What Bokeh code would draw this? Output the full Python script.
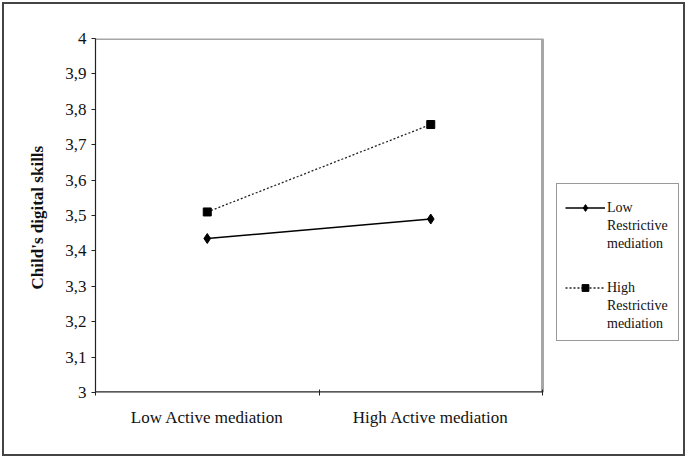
from bokeh.plotting import figure
from bokeh.layouts import column
from bokeh.models import (Range1d, FixedTicker, CustomJSTickFormatter, Legend, LegendItem)
from bokeh.embed import file_html
from bokeh.resources import INLINE

categories = ["Low Active mediation", "High Active mediation"]
low_restrictive = [3.435, 3.49]
high_restrictive = [3.51, 3.757]
series_low_lines = ["Low", "Restrictive", "mediation"]
series_high_lines = ["High", "Restrictive", "mediation"]
y_ticks = [3.0, 3.1, 3.2, 3.3, 3.4, 3.5, 3.6, 3.7, 3.8, 3.9, 4.0]
y_title = "Child's  digital skills"

FONT = "Liberation Serif"
W, H = 679, 450
BL, BT, BB = 91, 34, 62
PLOT_PX = 447  # width of the drawn plot area in pixels
n = len(categories)
xs = [i + 0.5 for i in range(n)]
x_end = n * (W - BL) / PLOT_PX

p = figure(width=W, height=H, output_backend="svg", toolbar_location=None,
           x_range=Range1d(0, x_end), y_range=Range1d(y_ticks[0], y_ticks[-1]),
           min_border_left=BL, min_border_right=0, min_border_top=BT, min_border_bottom=BB)
p.background_fill_color = "white"
p.border_fill_color = "white"
p.outline_line_color = None
p.grid.visible = False

# plot-area box: top & right light gray, bottom dark (axis line)
p.segment(x0=[0, n], y0=[y_ticks[-1], y_ticks[0]], x1=[n, n], y1=[y_ticks[-1], y_ticks[-1]],
          line_color="#a6a6a6", line_width=3)
p.segment(x0=[0], y0=[y_ticks[0]], x1=[n], y1=[y_ticks[0]], line_color="#222222", line_width=2.4)

r1l = p.line(xs, low_restrictive, line_color="black", line_width=1.4)
r1m = p.scatter(xs, low_restrictive, marker="diamond", size=10, color="black")
r2l = p.line(xs, high_restrictive, line_color="#222222", line_width=1.3, line_dash="2 2")
r2m = p.scatter(xs, high_restrictive, marker="square", size=8, color="black")
blank = p.scatter(x=[], y=[], size=1, fill_alpha=0, line_alpha=0)

# x axis
xa = p.xaxis[0]
xa.ticker = FixedTicker(ticks=xs, minor_ticks=list(range(n + 1)))
xa.major_label_overrides = {x: c for x, c in zip(xs, categories)}
xa.major_tick_line_color = None
xa.minor_tick_in = 3
xa.minor_tick_out = 3
xa.minor_tick_line_color = "#222222"
xa.axis_line_color = None
xa.major_label_text_font = FONT
xa.major_label_text_font_size = "17px"
xa.major_label_text_color = "#111111"
xa.major_label_standoff = 9

ya = p.yaxis[0]
ya.ticker = FixedTicker(ticks=y_ticks)
ya.formatter = CustomJSTickFormatter(code="""
let s = tick.toFixed(1).replace('.', ',');
if (s.endsWith(',0')) s = s.slice(0, -2);
return s;
""")
ya.major_tick_in = 0
ya.major_tick_out = 4
ya.minor_tick_line_color = None
ya.axis_line_color = "#222222"
ya.axis_line_width = 1.2
ya.major_tick_line_color = "#222222"
ya.major_label_text_font = FONT
ya.major_label_text_font_size = "17px"
ya.major_label_text_color = "#111111"
ya.major_label_standoff = 5
ya.axis_label = y_title
ya.axis_label_text_font = FONT
ya.axis_label_text_font_style = "bold"
ya.axis_label_text_font_size = "17px"
ya.axis_label_text_color = "#111111"
ya.axis_label_standoff = 15

# legend frame
box = Legend(items=[LegendItem(label=" ", renderers=[blank])],
             location=(461, 51), border_line_color="#333333", border_line_width=1.2,
             background_fill_color="white", background_fill_alpha=1,
             padding=0, margin=0, spacing=0, glyph_width=101, glyph_height=156,
             label_width=20, label_standoff=0, label_text_font_size="1px")
p.add_layout(box, "center")


def group_legend(lines, line_r, mark_r, loc):
    items = [LegendItem(label=lines[0], renderers=[line_r, mark_r])]
    items += [LegendItem(label=t, renderers=[blank]) for t in lines[1:]]
    return Legend(items=items, location=loc, border_line_color=None,
                  background_fill_alpha=0, padding=0, margin=0, spacing=1,
                  glyph_width=40, glyph_height=17, label_height=17, label_standoff=2,
                  label_text_font=FONT, label_text_font_size="14px",
                  label_text_color="#111111")


p.add_layout(group_legend(series_low_lines, r1l, r1m, (470, 140)), "center")
p.add_layout(group_legend(series_high_lines, r2l, r2m, (470, 60)), "center")

layout = column(p, margin=(2, 2, 2, 2), styles={"border": "2px solid #444444"})
open("out.html", "w").write(file_html(layout, INLINE))
